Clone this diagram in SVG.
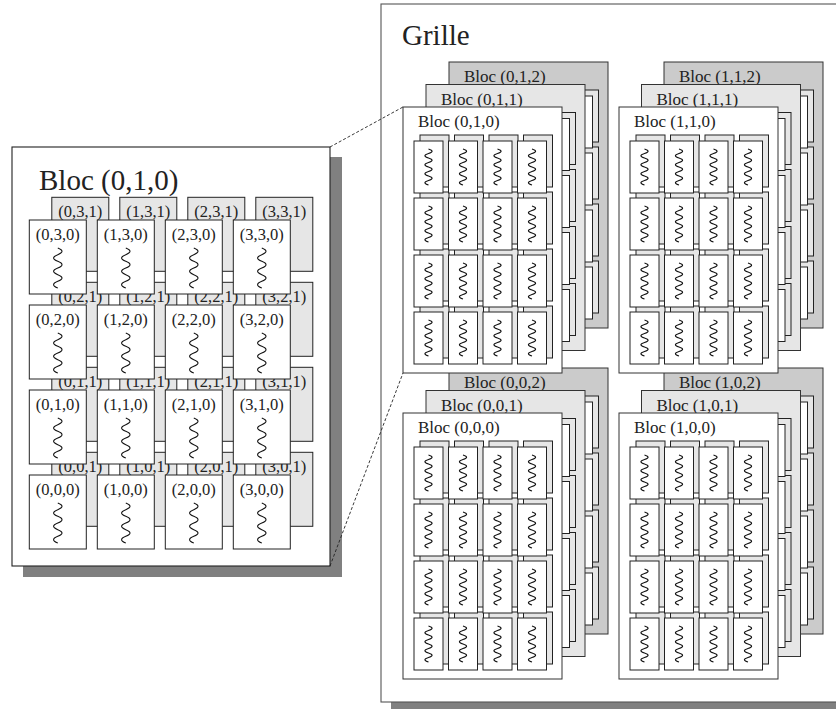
<svg xmlns="http://www.w3.org/2000/svg" xmlns:xlink="http://www.w3.org/1999/xlink" width="836" height="709" viewBox="0 0 836 709">
  <style>
    text { font-family: "Liberation Serif", "Times New Roman", serif; fill: #222; }
    .title { font-size: 29px; }
    .blab { font-size: 17px; }
    .tlab { font-size: 16.5px; text-anchor: middle; }
    .shadow { fill: #808080; stroke: none; }
    .frame { fill: #fff; stroke: #222; stroke-width: 1.1; }
    .grille { fill: #fff; stroke: #555; stroke-width: 1.1; }
    .b0 { fill: #fff; stroke: #333; stroke-width: 1; }
    .b1 { fill: #e6e6e6; stroke: #333; stroke-width: 1; }
    .b2 { fill: #cbcbcb; stroke: #333; stroke-width: 1; }
    .tf { fill: #fff; stroke: #222; stroke-width: 1; }
    .tb { fill: #e6e6e6; stroke: #222; stroke-width: 1; }
    .sq { fill: none; stroke: #111; stroke-width: 1.1; }
    .link { fill: none; stroke: #222; stroke-width: 0.9; stroke-dasharray: 3 2; }
  </style>
  <defs>
    <!-- wavy thread marks -->
    <path id="sq-s" class="sq" d="M0,0 c4.8,1.5 4.8,3 0,4.5 c-4.8,1.5 -4.8,3 0,4.5 c4.8,1.5 4.8,3 0,4.5 c-4.8,1.5 -4.8,3 0,4.5 c4.8,1.5 4.8,3 0,4.5 c-4.8,1.5 -4.8,3 0,4.5 c4.8,1.5 4.8,3 0,4.5 c-4.8,1.5 -4.8,3 0,4.5"/>
    <path id="sq-l" class="sq" d="M0,0 c5.6,2.2 5.6,4.45 0,6.67 c-5.6,2.2 -5.6,4.45 0,6.67 c5.6,2.2 5.6,4.45 0,6.67 c-5.6,2.2 -5.6,4.45 0,6.67 c5.6,2.2 5.6,4.45 0,6.67 c-5.6,2.2 -5.6,4.45 0,6.67"/>
    <!-- 4x4 threads of a block, two layers -->
    <g id="threads">
      <rect class="tb" x="17" y="28" width="29" height="52"/>
      <rect class="tb" x="51.5" y="28" width="29" height="52"/>
      <rect class="tb" x="86" y="28" width="29" height="52"/>
      <rect class="tb" x="120.5" y="28" width="29" height="52"/>
      <rect class="tb" x="17" y="85" width="29" height="52"/>
      <rect class="tb" x="51.5" y="85" width="29" height="52"/>
      <rect class="tb" x="86" y="85" width="29" height="52"/>
      <rect class="tb" x="120.5" y="85" width="29" height="52"/>
      <rect class="tb" x="17" y="142" width="29" height="52"/>
      <rect class="tb" x="51.5" y="142" width="29" height="52"/>
      <rect class="tb" x="86" y="142" width="29" height="52"/>
      <rect class="tb" x="120.5" y="142" width="29" height="52"/>
      <rect class="tb" x="17" y="199" width="29" height="52"/>
      <rect class="tb" x="51.5" y="199" width="29" height="52"/>
      <rect class="tb" x="86" y="199" width="29" height="52"/>
      <rect class="tb" x="120.5" y="199" width="29" height="52"/>
      <rect class="tf" x="11" y="34" width="29" height="52"/>
      <rect class="tf" x="45.5" y="34" width="29" height="52"/>
      <rect class="tf" x="80" y="34" width="29" height="52"/>
      <rect class="tf" x="114.5" y="34" width="29" height="52"/>
      <rect class="tf" x="11" y="91" width="29" height="52"/>
      <rect class="tf" x="45.5" y="91" width="29" height="52"/>
      <rect class="tf" x="80" y="91" width="29" height="52"/>
      <rect class="tf" x="114.5" y="91" width="29" height="52"/>
      <rect class="tf" x="11" y="148" width="29" height="52"/>
      <rect class="tf" x="45.5" y="148" width="29" height="52"/>
      <rect class="tf" x="80" y="148" width="29" height="52"/>
      <rect class="tf" x="114.5" y="148" width="29" height="52"/>
      <rect class="tf" x="11" y="205" width="29" height="52"/>
      <rect class="tf" x="45.5" y="205" width="29" height="52"/>
      <rect class="tf" x="80" y="205" width="29" height="52"/>
      <rect class="tf" x="114.5" y="205" width="29" height="52"/>
      <use href="#sq-s" x="25.5" y="42"/>
      <use href="#sq-s" x="60" y="42"/>
      <use href="#sq-s" x="94.5" y="42"/>
      <use href="#sq-s" x="129" y="42"/>
      <use href="#sq-s" x="25.5" y="99"/>
      <use href="#sq-s" x="60" y="99"/>
      <use href="#sq-s" x="94.5" y="99"/>
      <use href="#sq-s" x="129" y="99"/>
      <use href="#sq-s" x="25.5" y="156"/>
      <use href="#sq-s" x="60" y="156"/>
      <use href="#sq-s" x="94.5" y="156"/>
      <use href="#sq-s" x="129" y="156"/>
      <use href="#sq-s" x="25.5" y="213"/>
      <use href="#sq-s" x="60" y="213"/>
      <use href="#sq-s" x="94.5" y="213"/>
      <use href="#sq-s" x="129" y="213"/>
    </g>
  </defs>

  <!-- detailed view of one block -->
  <g id="bloc-010-detail">
    <rect class="shadow" x="23" y="157" width="319" height="420"/>
    <rect class="frame" x="12" y="147" width="318" height="419"/>
    <text class="title" x="39" y="190">Bloc (0,1,0)</text>
    <g id="threads-z1">
      <rect class="tb" x="51.8" y="197.3" width="57" height="74"/>
      <rect class="tb" x="119.8" y="197.3" width="57" height="74"/>
      <rect class="tb" x="187.8" y="197.3" width="57" height="74"/>
      <rect class="tb" x="255.8" y="197.3" width="57" height="74"/>
      <text class="tlab" x="80.3" y="217.3">(0,3,1)</text>
      <text class="tlab" x="148.3" y="217.3">(1,3,1)</text>
      <text class="tlab" x="216.3" y="217.3">(2,3,1)</text>
      <text class="tlab" x="284.3" y="217.3">(3,3,1)</text>
      <rect class="tb" x="51.8" y="282.3" width="57" height="74"/>
      <rect class="tb" x="119.8" y="282.3" width="57" height="74"/>
      <rect class="tb" x="187.8" y="282.3" width="57" height="74"/>
      <rect class="tb" x="255.8" y="282.3" width="57" height="74"/>
      <text class="tlab" x="80.3" y="302.3">(0,2,1)</text>
      <text class="tlab" x="148.3" y="302.3">(1,2,1)</text>
      <text class="tlab" x="216.3" y="302.3">(2,2,1)</text>
      <text class="tlab" x="284.3" y="302.3">(3,2,1)</text>
      <rect class="tb" x="51.8" y="367.3" width="57" height="74"/>
      <rect class="tb" x="119.8" y="367.3" width="57" height="74"/>
      <rect class="tb" x="187.8" y="367.3" width="57" height="74"/>
      <rect class="tb" x="255.8" y="367.3" width="57" height="74"/>
      <text class="tlab" x="80.3" y="387.3">(0,1,1)</text>
      <text class="tlab" x="148.3" y="387.3">(1,1,1)</text>
      <text class="tlab" x="216.3" y="387.3">(2,1,1)</text>
      <text class="tlab" x="284.3" y="387.3">(3,1,1)</text>
      <rect class="tb" x="51.8" y="452.3" width="57" height="74"/>
      <rect class="tb" x="119.8" y="452.3" width="57" height="74"/>
      <rect class="tb" x="187.8" y="452.3" width="57" height="74"/>
      <rect class="tb" x="255.8" y="452.3" width="57" height="74"/>
      <text class="tlab" x="80.3" y="472.3">(0,0,1)</text>
      <text class="tlab" x="148.3" y="472.3">(1,0,1)</text>
      <text class="tlab" x="216.3" y="472.3">(2,0,1)</text>
      <text class="tlab" x="284.3" y="472.3">(3,0,1)</text>
    </g>
    <g id="threads-z0">
      <rect class="tf" x="29.3" y="220" width="57" height="74"/>
      <rect class="tf" x="97.3" y="220" width="57" height="74"/>
      <rect class="tf" x="165.3" y="220" width="57" height="74"/>
      <rect class="tf" x="233.3" y="220" width="57" height="74"/>
      <text class="tlab" x="57.8" y="240">(0,3,0)</text>
      <text class="tlab" x="125.8" y="240">(1,3,0)</text>
      <text class="tlab" x="193.8" y="240">(2,3,0)</text>
      <text class="tlab" x="261.8" y="240">(3,3,0)</text>
      <use href="#sq-l" x="57.8" y="248"/>
      <use href="#sq-l" x="125.8" y="248"/>
      <use href="#sq-l" x="193.8" y="248"/>
      <use href="#sq-l" x="261.8" y="248"/>
      <rect class="tf" x="29.3" y="305" width="57" height="74"/>
      <rect class="tf" x="97.3" y="305" width="57" height="74"/>
      <rect class="tf" x="165.3" y="305" width="57" height="74"/>
      <rect class="tf" x="233.3" y="305" width="57" height="74"/>
      <text class="tlab" x="57.8" y="325">(0,2,0)</text>
      <text class="tlab" x="125.8" y="325">(1,2,0)</text>
      <text class="tlab" x="193.8" y="325">(2,2,0)</text>
      <text class="tlab" x="261.8" y="325">(3,2,0)</text>
      <use href="#sq-l" x="57.8" y="333"/>
      <use href="#sq-l" x="125.8" y="333"/>
      <use href="#sq-l" x="193.8" y="333"/>
      <use href="#sq-l" x="261.8" y="333"/>
      <rect class="tf" x="29.3" y="390" width="57" height="74"/>
      <rect class="tf" x="97.3" y="390" width="57" height="74"/>
      <rect class="tf" x="165.3" y="390" width="57" height="74"/>
      <rect class="tf" x="233.3" y="390" width="57" height="74"/>
      <text class="tlab" x="57.8" y="410">(0,1,0)</text>
      <text class="tlab" x="125.8" y="410">(1,1,0)</text>
      <text class="tlab" x="193.8" y="410">(2,1,0)</text>
      <text class="tlab" x="261.8" y="410">(3,1,0)</text>
      <use href="#sq-l" x="57.8" y="418"/>
      <use href="#sq-l" x="125.8" y="418"/>
      <use href="#sq-l" x="193.8" y="418"/>
      <use href="#sq-l" x="261.8" y="418"/>
      <rect class="tf" x="29.3" y="475" width="57" height="74"/>
      <rect class="tf" x="97.3" y="475" width="57" height="74"/>
      <rect class="tf" x="165.3" y="475" width="57" height="74"/>
      <rect class="tf" x="233.3" y="475" width="57" height="74"/>
      <text class="tlab" x="57.8" y="495">(0,0,0)</text>
      <text class="tlab" x="125.8" y="495">(1,0,0)</text>
      <text class="tlab" x="193.8" y="495">(2,0,0)</text>
      <text class="tlab" x="261.8" y="495">(3,0,0)</text>
      <use href="#sq-l" x="57.8" y="503"/>
      <use href="#sq-l" x="125.8" y="503"/>
      <use href="#sq-l" x="193.8" y="503"/>
      <use href="#sq-l" x="261.8" y="503"/>
    </g>
  </g>

  <!-- the grid of blocks -->
  <g id="grille">
    <rect class="shadow" x="391" y="14" width="470" height="710"/>
    <rect class="grille" x="381" y="4" width="470" height="698"/>
    <text class="title" x="402" y="45">Grille</text>

    <g id="bloc-0-0-2" transform="translate(449,368)"><rect class="b2" width="159" height="266"/><text class="blab" x="15" y="20">Bloc (0,0,2)</text><use href="#threads"/></g>
    <g id="bloc-0-0-1" transform="translate(426,390.5)"><rect class="b1" width="159" height="266"/><text class="blab" x="15" y="20">Bloc (0,0,1)</text><use href="#threads"/></g>
    <g id="bloc-0-0-0" transform="translate(403,413)"><rect class="b0" width="159" height="266"/><text class="blab" x="15" y="20">Bloc (0,0,0)</text><use href="#threads"/></g>

    <g id="bloc-1-0-2" transform="translate(664,368)"><rect class="b2" width="159" height="266"/><text class="blab" x="15" y="20">Bloc (1,0,2)</text><use href="#threads"/></g>
    <g id="bloc-1-0-1" transform="translate(641.5,390.5)"><rect class="b1" width="159" height="266"/><text class="blab" x="15" y="20">Bloc (1,0,1)</text><use href="#threads"/></g>
    <g id="bloc-1-0-0" transform="translate(619,413)"><rect class="b0" width="159" height="266"/><text class="blab" x="15" y="20">Bloc (1,0,0)</text><use href="#threads"/></g>

    <g id="bloc-0-1-2" transform="translate(449,62)"><rect class="b2" width="159" height="266"/><text class="blab" x="15" y="20">Bloc (0,1,2)</text><use href="#threads"/></g>
    <g id="bloc-0-1-1" transform="translate(426,84.5)"><rect class="b1" width="159" height="266"/><text class="blab" x="15" y="20">Bloc (0,1,1)</text><use href="#threads"/></g>
    <g id="bloc-0-1-0" transform="translate(403,107)"><rect class="b0" width="159" height="266"/><text class="blab" x="15" y="20">Bloc (0,1,0)</text><use href="#threads"/></g>

    <g id="bloc-1-1-2" transform="translate(664,62)"><rect class="b2" width="159" height="266"/><text class="blab" x="15" y="20">Bloc (1,1,2)</text><use href="#threads"/></g>
    <g id="bloc-1-1-1" transform="translate(641.5,84.5)"><rect class="b1" width="159" height="266"/><text class="blab" x="15" y="20">Bloc (1,1,1)</text><use href="#threads"/></g>
    <g id="bloc-1-1-0" transform="translate(619,107)"><rect class="b0" width="159" height="266"/><text class="blab" x="15" y="20">Bloc (1,1,0)</text><use href="#threads"/></g>
  </g>

  <!-- zoom lines from the detailed block to its place in the grid -->
  <g id="connectors">
    <line class="link" x1="330" y1="147" x2="403" y2="107"/>
    <line class="link" x1="330" y1="566" x2="403" y2="373"/>
  </g>
</svg>
